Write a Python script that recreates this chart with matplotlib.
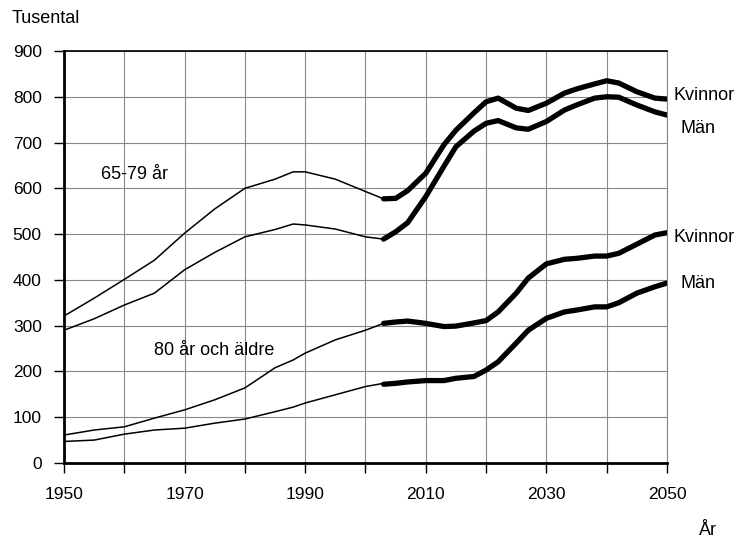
import matplotlib.pyplot as plt
from matplotlib.ticker import FixedLocator, MultipleLocator

plt.rcParams['font.family'] = ['Liberation Sans', 'DejaVu Sans']

# Observed (thin lines), thousands
hist_years = [1950, 1955, 1960, 1965, 1970, 1975, 1980, 1985, 1988, 1990, 1995, 2000, 2003]
w6579_hist = [321, 360, 401, 443, 502, 555, 600, 620, 636, 636, 620, 593, 577]
m6579_hist = [290, 315, 345, 371, 422, 460, 494, 510, 522, 520, 511, 494, 489]
w80_hist = [61, 72, 79, 98, 116, 138, 164, 208, 225, 240, 269, 290, 305]
m80_hist = [47, 50, 63, 72, 76, 87, 96, 112, 122, 131, 149, 167, 174]

# Projection (thick lines)
proj_years = [2003, 2005, 2007, 2010, 2013, 2015, 2018, 2020, 2022, 2025, 2027,
              2030, 2033, 2035, 2038, 2040, 2042, 2045, 2048, 2050]
w6579_proj = [577, 578, 595, 633, 695, 727, 765, 789, 797, 775, 770,
              786, 808, 817, 828, 835, 830, 811, 797, 795]
m6579_proj = [489, 505, 525, 582, 648, 691, 725, 742, 748, 732, 729,
              746, 771, 782, 797, 800, 799, 782, 767, 760]
w80_proj = [305, 308, 310, 305, 298, 299, 306, 311, 330, 371, 404,
            435, 445, 447, 452, 452, 458, 478, 498, 503]
m80_proj = [172, 174, 177, 180, 180, 185, 189, 203, 221, 262, 290,
            316, 330, 334, 341, 341, 350, 371, 385, 393]

year_labels = [1950, 1970, 1990, 2010, 2030, 2050]

fig = plt.figure(figsize=(7.45, 5.47), dpi=100)
ax = fig.add_axes([0.0859, 0.1536, 0.8094, 0.7532])

for y in [w6579_hist, m6579_hist, w80_hist, m80_hist]:
    ax.plot(hist_years, y, color='black', lw=1.1, solid_capstyle='round')
for y in [w6579_proj, m6579_proj, w80_proj, m80_proj]:
    ax.plot(proj_years, y, color='black', lw=3.8, solid_capstyle='round',
            solid_joinstyle='round')

ax.set_xlim(1950, 2050)
ax.set_ylim(0, 900)
ax.xaxis.set_major_locator(FixedLocator(year_labels))
ax.xaxis.set_minor_locator(MultipleLocator(10))
ax.yaxis.set_major_locator(MultipleLocator(100))
ax.grid(True, which='both', color='#888888', lw=0.8)
ax.set_axisbelow(True)

ax.spines['left'].set_linewidth(2)
ax.spines['bottom'].set_linewidth(2)
ax.spines['top'].set_linewidth(1.2)
ax.spines['right'].set_color('#888888')
ax.spines['right'].set_linewidth(0.8)

ax.tick_params(axis='x', which='both', direction='out', length=7, width=1,
               labelsize=12.5, pad=10)
ax.tick_params(axis='y', direction='out', length=7, width=1, labelsize=12.5, pad=9)

fs = 13
fig.text(0.016, 0.967, 'Tusental', fontsize=fs, ha='left', va='center')
fig.text(0.938, 0.031, 'År', fontsize=fs, ha='left', va='center')

ax.text(1956.2, 630, '65-79 år', fontsize=fs, ha='left', va='center')
ax.text(1965, 246, '80 år och äldre', fontsize=fs, ha='left', va='center')
ax.text(2051, 802, 'Kvinnor', fontsize=fs, ha='left', va='center', clip_on=False)
ax.text(2052.3, 730, 'Män', fontsize=fs, ha='left', va='center', clip_on=False)
ax.text(2051, 493, 'Kvinnor', fontsize=fs, ha='left', va='center', clip_on=False)
ax.text(2052.3, 393, 'Män', fontsize=fs, ha='left', va='center', clip_on=False)

fig.savefig('out.png', dpi=100)
